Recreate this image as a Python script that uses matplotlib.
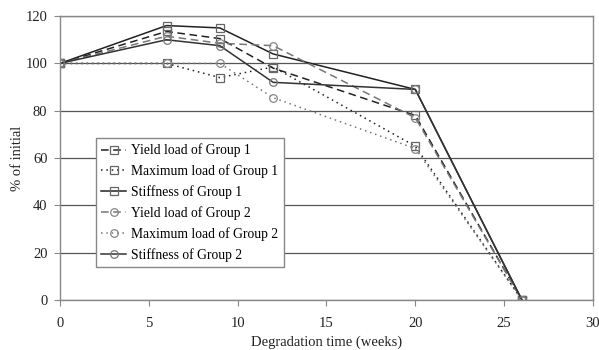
import matplotlib
matplotlib.use("Agg")
import matplotlib.pyplot as plt

weeks = [0, 6, 9, 12, 20, 26]
yield_g1 = [100, 113.5, 110.5, 98, 78, 0]
max_g1 = [100, 100, 94, 98.5, 65, 0]
stiff_g1 = [100, 116, 115, 104, 89, 0]
yield_g2 = [100, 111.5, 108.5, 107.5, 77, 0]
max_g2 = [100, 100, 100, 85.5, 64, 0]
stiff_g2 = [100, 110, 107.5, 92, 89, 0]

labels = ["Yield load of Group 1", "Maximum load of Group 1", "Stiffness of Group 1",
          "Yield load of Group 2", "Maximum load of Group 2", "Stiffness of Group 2"]

plt.rcParams['font.family'] = ['Liberation Serif', 'DejaVu Serif']
fig = plt.figure(figsize=(5.99, 3.5), dpi=100)
ax = fig.add_axes([0.1, 0.143, 0.89, 0.811])

series = [yield_g1, max_g1, stiff_g1, yield_g2, max_g2, stiff_g2]
styles = [
    dict(color='#222222', ls=(0, (5, 3)), marker='s', mec='#666666'),
    dict(color='#222222', ls=(0, (1, 2.5)), marker='s', mec='#666666'),
    dict(color='#222222', ls='-', marker='s', mec='#666666'),
    dict(color='#777777', ls=(0, (5, 3)), marker='o', mec='#888888'),
    dict(color='#777777', ls=(0, (1, 2.5)), marker='o', mec='#888888'),
    dict(color='#333333', ls='-', marker='o', mec='#777777'),
]
for vals, lab, st in zip(series, labels, styles):
    ax.plot(weeks, vals, color=st['color'], linestyle=st['ls'], linewidth=1.1,
            marker=st['marker'], markersize=5.5, markerfacecolor='none',
            markeredgecolor=st['mec'], markeredgewidth=0.9, label=lab)

ax.set_xlim(0, 30)
ax.set_ylim(0, 120)
ax.set_xticks([0, 5, 10, 15, 20, 25, 30])
ax.set_yticks([0, 20, 40, 60, 80, 100, 120])
ax.yaxis.grid(True, color='#555555', linewidth=0.9)
ax.set_axisbelow(True)
for s in ax.spines.values():
    s.set_color('#888888')
    s.set_linewidth(1.0)
ax.tick_params(axis='both', colors='#888888', labelcolor='#222222', labelsize=10.5, length=4, width=0.8)
ax.tick_params(axis='x', pad=8)
ax.tick_params(axis='y', pad=5)
ax.set_xlabel("Degradation time (weeks)", fontsize=10.5, color='#222222', labelpad=4)
ax.set_ylabel("% of initial", fontsize=10.5, color='#222222', labelpad=1)

leg = ax.legend(loc='upper left', bbox_to_anchor=(0.0675, 0.570), fontsize=9.8, frameon=True,
                fancybox=False, edgecolor='#888888', framealpha=1, handlelength=1.8,
                handletextpad=0.4, labelspacing=0.52, borderpad=0.4, borderaxespad=0)
leg.get_frame().set_linewidth(1.0)

fig.savefig("out.png", dpi=100)
